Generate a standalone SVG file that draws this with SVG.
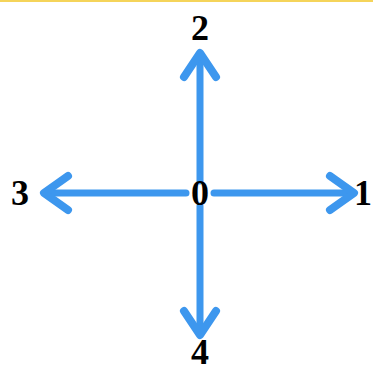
<svg xmlns="http://www.w3.org/2000/svg" width="373" height="372" viewBox="0 0 373 372">
<style>
.ln{stroke:#3d97ee;stroke-width:7;fill:none;stroke-linecap:round;stroke-linejoin:round}
.hd{stroke:#3d97ee;stroke-width:8;fill:none;stroke-linecap:round;stroke-linejoin:round}
.lb{font-family:"Liberation Serif",serif;font-weight:bold;font-size:36px;fill:#000;text-anchor:middle}
</style>
<rect width="373" height="372" fill="#fff"/>
<rect x="0" y="0" width="373" height="2" fill="#f5d45a"/>
<g id="connectors">
<path class="ln" d="M200 54V181M200 206V334M45 193H186M214 193H351"/>
<path class="hd" d="M184 77L200 53L216 77"/>
<path class="hd" d="M184 311L200 335L216 311"/>
<path class="hd" d="M68 176L44 193L68 210"/>
<path class="hd" d="M330 176L354 193L330 210"/>
</g>
<g id="n0"><text class="lb" x="200" y="205">0</text></g>
<g id="n1"><text class="lb" x="363" y="205">1</text></g>
<g id="n2"><text class="lb" x="200" y="40">2</text></g>
<g id="n3"><text class="lb" x="20" y="205">3</text></g>
<g id="n4"><text class="lb" x="200" y="364">4</text></g>
</svg>
